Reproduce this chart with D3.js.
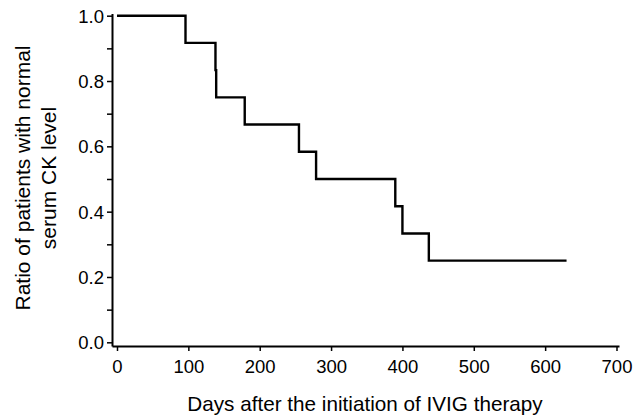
<!DOCTYPE html>
<html><head><meta charset="utf-8">
<script src="https://cdn.jsdelivr.net/npm/d3@7"></script>
<style>body{margin:0;background:#fff}svg{display:block}text{font-family:"Liberation Sans",Arial,sans-serif;fill:#000}</style>
</head><body>
<svg id="c" width="634" height="418"></svg>
<script>
const days = [0, 96, 138, 139, 179, 255, 279, 390, 400, 437, 630];
const ratio = [1.0, 0.9167, 0.8333, 0.75, 0.6667, 0.5833, 0.5, 0.4167, 0.3333, 0.25, 0.25];
const xTicks = [0, 100, 200, 300, 400, 500, 600, 700];
const yTicks = [0, 0.1, 0.2, 0.3, 0.4, 0.5, 0.6, 0.7, 0.8, 0.9, 1.0];
const xTitle = "Days after the initiation of IVIG therapy";
const yTitle = ["Ratio of patients with normal", "serum CK level"];

const svg = d3.select("#c");
const x = d3.scaleLinear().domain([-7, 703.5]).range([112, 619]);
const y = d3.scaleLinear().domain([-0.0113, 1.007]).range([346, 13.4]);

const xa = svg.append("g").attr("transform", "translate(0,346)")
  .call(d3.axisBottom(x).tickValues(xTicks).tickSize(5).tickSizeOuter(0).tickFormat(d3.format("d")));
const ya = svg.append("g").attr("transform", "translate(112,0)")
  .call(d3.axisLeft(y).tickValues(yTicks).tickSize(5).tickSizeOuter(0)
    .tickFormat((d,i) => i % 2 === 0 ? d3.format(".1f")(d) : ""));
[xa, ya].forEach(a => {
  a.selectAll("path.domain").attr("stroke", "#000").attr("stroke-width", 2);
  a.selectAll(".tick line").attr("stroke", "#000").attr("stroke-width", 1.5);
  a.selectAll(".tick text").attr("font-size", 18.5).attr("font-family", "Liberation Sans, Arial, sans-serif");
});
xa.selectAll(".tick text").attr("y", 9).attr("dy", "0.95em");
ya.selectAll(".tick text").attr("x", -8).attr("dy", "0.35em");

const pts = days.map((d, i) => [d, ratio[i]]);
const line = d3.line().x(d => x(d[0])).y(d => y(d[1])).curve(d3.curveStepAfter);
svg.append("path").datum(pts).attr("d", line).attr("fill", "none")
  .attr("stroke", "#000").attr("stroke-width", 2.4).attr("stroke-linejoin", "miter");

svg.append("text").attr("x", 365).attr("y", 411).attr("text-anchor", "middle")
  .attr("font-size", 20.7).text(xTitle);
svg.append("text").attr("transform", "translate(30,178) rotate(-90)").attr("text-anchor", "middle")
  .attr("font-size", 21).text(yTitle[0]);
svg.append("text").attr("transform", "translate(56,178) rotate(-90)").attr("text-anchor", "middle")
  .attr("font-size", 21).text(yTitle[1]);
</script>
</body></html>
